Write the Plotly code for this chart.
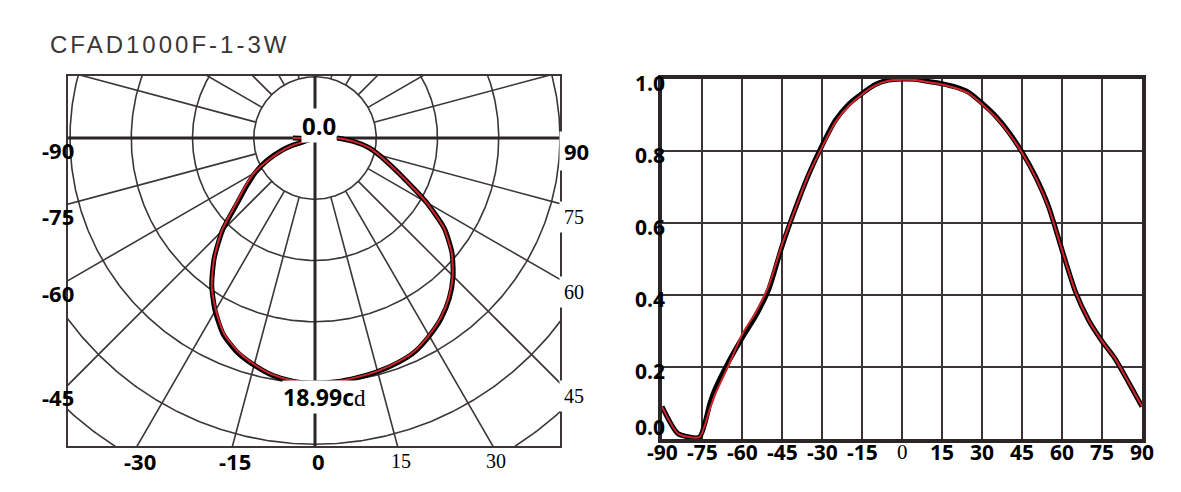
import numpy as np
import plotly.graph_objects as go

# ---------------- data ----------------
title_text = "CFAD1000F-1-3W"
peak_cd = 18.99

angles_deg = [-90, -84, -76, -72, -70, -65, -60, -55, -50, -45, -40, -35, -30, -25, -20, -15,
              -10, -5, 0, 5, 10, 15, 20, 25, 30, 35, 40, 45, 50, 55, 60, 65, 70, 75, 80, 85, 90]
intensity_black = [0.09, 0.015, 0.005, 0.10, 0.14, 0.215, 0.28, 0.34, 0.415, 0.535, 0.64, 0.735,
                   0.815, 0.885, 0.93, 0.96, 0.985, 0.997, 1.0, 0.999, 0.993, 0.987, 0.978, 0.963,
                   0.933, 0.898, 0.853, 0.797, 0.73, 0.645, 0.525, 0.41, 0.33, 0.272, 0.222, 0.157, 0.09]
intensity_red = [0.09, 0.015, 0.005, 0.085, 0.125, 0.205, 0.29, 0.35, 0.425, 0.54, 0.64, 0.735,
                 0.81, 0.88, 0.925, 0.957, 0.982, 0.995, 0.998, 0.997, 0.991, 0.985, 0.975, 0.96,
                 0.93, 0.895, 0.85, 0.795, 0.728, 0.643, 0.525, 0.41, 0.33, 0.272, 0.222, 0.157, 0.09]

x_tick_vals = [-90, -75, -60, -45, -30, -15, 0, 15, 30, 45, 60, 75, 90]
x_tick_text = ["-90", "-75", "-60", "-45", "-30", "-15", "0", "15", "30", "45", "60", "75", "90"]
y_tick_vals = [0.0, 0.2, 0.4, 0.6, 0.8, 1.0]

ring_radii = [0.25, 0.5, 0.75, 1.0, 1.25, 1.5]
spoke_angles = [a for a in range(-165, 181, 15) if a % 90 != 0]
axis_angles = [0, 90, 180, -90]
left_label_angles = [-90, -75, -60, -45]
right_label_angles = [90, 75, 60, 45]
bottom_label_angles = [-30, -15, 0, 15, 30]

# ---------------- layout constants (pixels) ----------------
W, H = 1181, 492
PL, PR, PT, PB = 68, 560, 76, 446      # polar box
CX, CY = 315, 138                      # polar centre
PPU = 245.0                            # pixels per unit intensity
RL, RR, RT, RB = 662, 1142, 79, 439    # right chart box

GRID = "#3b3536"
DARK = "#2b2526"
RED = "#d0252d"
SANS = "Open Sans, DejaVu Sans, sans-serif"


def serif(t):
    return '<span style="font-family:Liberation Serif;font-weight:normal">%s</span>' % t


def pol(r, a_deg):
    a = np.radians(np.asarray(a_deg, dtype=float))
    r = np.asarray(r, dtype=float)
    return r * np.sin(a), -r * np.cos(a)


fig = go.Figure()

# ---------------- polar grid (x3/y3) ----------------
theta = np.linspace(0, 360, 721)
for rr in ring_radii:
    gx, gy = pol(np.full_like(theta, rr), theta)
    fig.add_trace(go.Scatter(x=gx, y=gy, mode="lines", xaxis="x3", yaxis="y3",
                             line=dict(color=GRID, width=1.6), hoverinfo="skip", showlegend=False))
for a in spoke_angles:
    sx, sy = pol([ring_radii[0], 2.0], [a, a])
    fig.add_trace(go.Scatter(x=sx, y=sy, mode="lines", xaxis="x3", yaxis="y3",
                             line=dict(color=GRID, width=1.6), hoverinfo="skip", showlegend=False))
for a in axis_angles:
    sx, sy = pol([0, 2.0], [a, a])
    fig.add_trace(go.Scatter(x=sx, y=sy, mode="lines", xaxis="x3", yaxis="y3",
                             line=dict(color=DARK, width=3), hoverinfo="skip", showlegend=False))

# polar curves
bx, by = pol(intensity_black, angles_deg)
rx, ry = pol(intensity_red, angles_deg)
fig.add_trace(go.Scatter(x=bx, y=by, mode="lines", xaxis="x3", yaxis="y3",
                         line=dict(color="black", width=5, shape="spline", smoothing=0.6),
                         showlegend=False))
fig.add_trace(go.Scatter(x=rx, y=ry, mode="lines", xaxis="x3", yaxis="y3",
                         line=dict(color=RED, width=2, shape="spline", smoothing=0.6),
                         showlegend=False))

# ---------------- right chart ----------------
fig.add_trace(go.Scatter(x=angles_deg, y=intensity_black, mode="lines",
                         line=dict(color="black", width=5, shape="spline", smoothing=0.6),
                         showlegend=False))
fig.add_trace(go.Scatter(x=angles_deg, y=intensity_red, mode="lines",
                         line=dict(color=RED, width=2, shape="spline", smoothing=0.6),
                         showlegend=False))

x3range = [(PL - CX) / PPU, (PR - CX) / PPU]
y3range = [(CY - PB) / PPU, (CY - PT) / PPU]

annotations = []

# title
annotations.append(dict(text='<span style="letter-spacing:3px">%s</span>' % title_text,
                        xref="paper", yref="paper", x=48 / W, y=1 - 44 / H,
                        xanchor="left", yanchor="middle", showarrow=False,
                        font=dict(family="Liberation Sans, Arial, sans-serif", size=24, color="#3a3536")))

# polar side labels
for a in left_label_angles:
    s = np.sin(np.radians(a))
    t = x3range[0] / s
    yy = -t * np.cos(np.radians(a))
    annotations.append(dict(text=str(a), xref="x3", yref="y3", x=x3range[0], y=yy,
                            xanchor="right", yanchor="middle", xshift=8, yshift=-12, showarrow=False,
                            font=dict(family=SANS, size=22, color="black", weight="bold")))
for a in right_label_angles:
    s = np.sin(np.radians(a))
    t = x3range[1] / s
    yy = -t * np.cos(np.radians(a))
    txt = str(a) if a == 90 else serif(str(a))
    annotations.append(dict(text=txt, xref="x3", yref="y3", x=x3range[1], y=yy,
                            xanchor="left", yanchor="middle", xshift=-1, yshift=-13, showarrow=False,
                            bgcolor="white", borderpad=4,
                            font=dict(family=SANS, size=22 if a == 90 else 20, color="black",
                                      weight="bold")))
for a in bottom_label_angles:
    c = np.cos(np.radians(a))
    t = -y3range[0] / c
    xx = t * np.sin(np.radians(a))
    txt = str(a) if a <= 0 else serif(str(a))
    annotations.append(dict(text=txt, xref="x3", yref="y3", x=xx, y=y3range[0],
                            xanchor="center", yanchor="middle", xshift=3, yshift=-15, showarrow=False,
                            font=dict(family=SANS, size=22 if a <= 0 else 20, color="black",
                                      weight="bold")))

# centre and peak labels
annotations.append(dict(text="0.0", xref="x3", yref="y3", x=0, y=0, xanchor="center",
                        yanchor="middle", xshift=4, yshift=13, showarrow=False, bgcolor="white",
                        borderpad=0, font=dict(family=SANS, size=24, color="black", weight="bold")))
px_, py_ = pol([max(intensity_black)], [0])
annotations.append(dict(text="%.2fc%s" % (peak_cd, serif("d")), xref="x3", yref="y3",
                        x=float(px_[0]), y=float(py_[0]), xanchor="center", yanchor="middle",
                        xshift=9, yshift=-14, showarrow=False, bgcolor="white", borderpad=0,
                        font=dict(family=SANS, size=23, color="black", weight="bold")))

# right chart y labels
for v in y_tick_vals:
    annotations.append(dict(text="%.1f" % v, xref="x", yref="y", x=x_tick_vals[0], y=v,
                            xanchor="right", yanchor="middle", xshift=5,
                            yshift=(12 if v == 0 else -4), showarrow=False,
                            font=dict(family=SANS, size=21, color="black", weight="bold")))
# right chart x labels
for v, t in zip(x_tick_vals, x_tick_text):
    annotations.append(dict(text=serif(t) if v == 0 else t, xref="x", yref="y", x=v, y=0,
                            xanchor="center", yanchor="middle", yshift=-13, showarrow=False,
                            font=dict(family=SANS, size=21, color="black", weight="bold")))

fig.update_layout(
    width=W, height=H, margin=dict(l=0, r=0, t=0, b=0, pad=0, autoexpand=False),
    autosize=False,
    paper_bgcolor="white", plot_bgcolor="white",
    showlegend=False,
    xaxis=dict(domain=[RL / W, RR / W], range=[-90, 90], tickvals=x_tick_vals,
               showticklabels=False, automargin=False,
               showgrid=True, gridcolor=GRID, gridwidth=1.6, zeroline=False,
               showline=True, linecolor=DARK, linewidth=3.5, mirror=True, ticks=""),
    yaxis=dict(domain=[1 - RB / H, 1 - RT / H], range=[0, 1], tickvals=y_tick_vals,
               showticklabels=False, automargin=False,
               showgrid=True, gridcolor=GRID, gridwidth=1.6, zeroline=False,
               showline=True, linecolor=DARK, linewidth=3.5, mirror=True, ticks=""),
    xaxis3=dict(domain=[PL / W, PR / W], range=x3range, showgrid=False, zeroline=False,
                showticklabels=False, automargin=False, ticks="", showline=True, linecolor=GRID,
                linewidth=1.5, mirror=True, anchor="y3"),
    yaxis3=dict(domain=[1 - PB / H, 1 - PT / H], range=y3range, showgrid=False, zeroline=False,
                showticklabels=False, automargin=False, ticks="", showline=True, linecolor=GRID,
                linewidth=1.5, mirror=True, anchor="x3"),
    annotations=annotations,
)

fig.write_html("out.html", config={"responsive": False, "displayModeBar": False},
               post_script="document.body.style.margin='0px';document.body.style.overflow='hidden';")
